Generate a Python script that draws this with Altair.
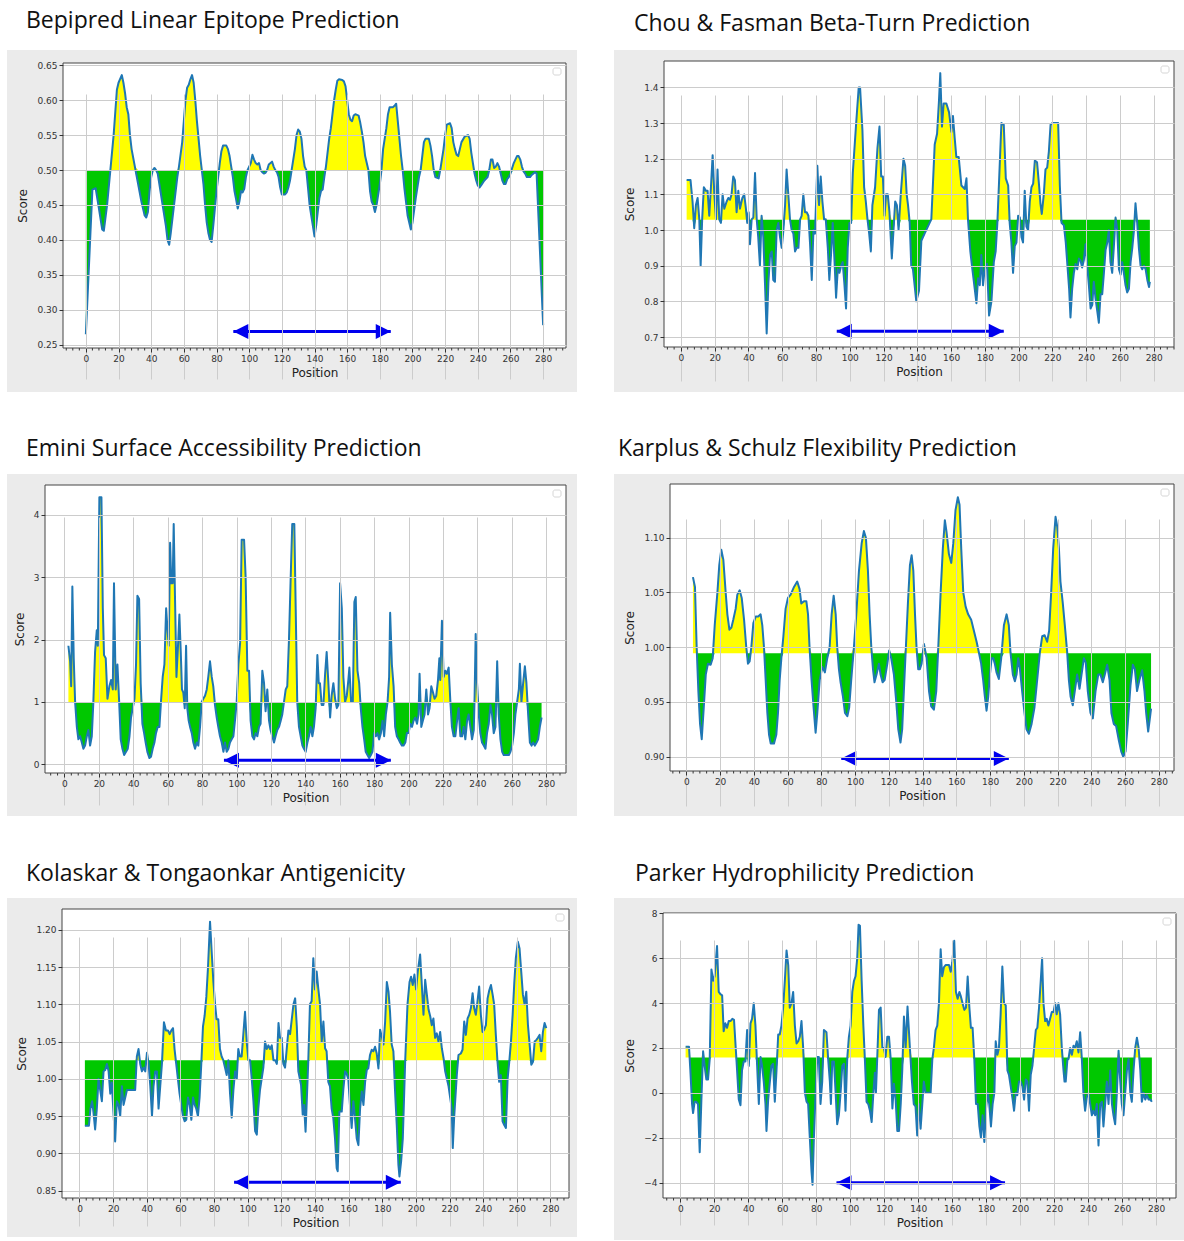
import altair as alt
import pandas as pd

# ---------------------------------------------------------------------------
# Per-residue scores, as (position, score) pairs
# ---------------------------------------------------------------------------
BEPIPRED = [
    (0, 0.265), (4, 0.472), (6, 0.474), (8, 0.445), (10, 0.415), (11, 0.413), (13, 0.45), (15, 0.50),
    (17, 0.55), (19, 0.615), (20, 0.625), (22, 0.636), (23, 0.625), (24, 0.61), (25, 0.59), (26, 0.58),
    (27, 0.55), (28, 0.53), (30, 0.505), (32, 0.48), (34, 0.455), (36, 0.435), (37, 0.432), (38, 0.44),
    (39, 0.47), (40, 0.49), (41, 0.50), (42, 0.503), (43, 0.50), (44, 0.495), (45, 0.48), (47, 0.45),
    (49, 0.42), (50, 0.40), (51, 0.393), (52, 0.41), (54, 0.45), (56, 0.49), (57, 0.505), (59, 0.54),
    (60, 0.57), (61, 0.60), (62, 0.618), (63, 0.622), (64, 0.63), (65, 0.636), (66, 0.625), (67, 0.60),
    (68, 0.57), (69, 0.545), (70, 0.52), (71, 0.50), (72, 0.48), (73, 0.45), (74, 0.425), (75, 0.41),
    (76, 0.40), (77, 0.397), (78, 0.42), (79, 0.445), (80, 0.47), (81, 0.49), (82, 0.51), (83, 0.527),
    (84, 0.535), (86, 0.535), (87, 0.53), (88, 0.52), (89, 0.505), (90, 0.49), (91, 0.47), (92, 0.458),
    (93, 0.445), (94, 0.455), (95, 0.47), (96, 0.468), (97, 0.473), (98, 0.49), (99, 0.50), (101, 0.51),
    (102, 0.522), (103, 0.515), (104, 0.51), (105, 0.508), (106, 0.51), (107, 0.50), (108, 0.497),
    (109, 0.495), (110, 0.496), (111, 0.50), (112, 0.508), (114, 0.512), (115, 0.505), (116, 0.50),
    (117, 0.497), (118, 0.49), (119, 0.475), (120, 0.465), (122, 0.465), (123, 0.468), (124, 0.475),
    (125, 0.485), (126, 0.50), (128, 0.53), (129, 0.55), (130, 0.558), (131, 0.555), (132, 0.545),
    (133, 0.52), (134, 0.505), (135, 0.50), (136, 0.475), (137, 0.45), (139, 0.42), (140, 0.405),
    (141, 0.42), (142, 0.44), (143, 0.46), (144, 0.47), (145, 0.472), (146, 0.49), (147, 0.505),
    (149, 0.545), (150, 0.56), (152, 0.60), (153, 0.615), (154, 0.628), (155, 0.63), (157, 0.629),
    (158, 0.627), (159, 0.62), (160, 0.60), (161, 0.58), (162, 0.572), (163, 0.57), (164, 0.578),
    (165, 0.58), (167, 0.578), (168, 0.568), (169, 0.555), (170, 0.54), (171, 0.52), (172, 0.51),
    (173, 0.50), (174, 0.47), (175, 0.455), (176, 0.45), (177, 0.44), (178, 0.45), (179, 0.465),
    (180, 0.48), (181, 0.50), (182, 0.53), (183, 0.545), (184, 0.56), (185, 0.58), (186, 0.59),
    (188, 0.59), (189, 0.592), (190, 0.595), (191, 0.57), (192, 0.545), (193, 0.52), (194, 0.50),
    (195, 0.475), (196, 0.455), (197, 0.435), (199, 0.415), (200, 0.425), (202, 0.46), (204, 0.49),
    (205, 0.50), (206, 0.52), (207, 0.54), (208, 0.545), (210, 0.545), (211, 0.535), (212, 0.52),
    (213, 0.50), (214, 0.49), (216, 0.488), (217, 0.50), (218, 0.515), (219, 0.53), (220, 0.55),
    (221, 0.565), (223, 0.567), (224, 0.56), (225, 0.54), (226, 0.53), (227, 0.522), (228, 0.52),
    (229, 0.53), (230, 0.54), (232, 0.548), (234, 0.55), (235, 0.545), (236, 0.525), (237, 0.51),
    (238, 0.495), (239, 0.485), (240, 0.478), (241, 0.475), (242, 0.478), (244, 0.485), (246, 0.49),
    (247, 0.50), (248, 0.515), (249, 0.515), (250, 0.503), (251, 0.505), (252, 0.51), (253, 0.505),
    (254, 0.495), (255, 0.485), (256, 0.48), (257, 0.48), (258, 0.487), (259, 0.49), (260, 0.495),
    (262, 0.51), (264, 0.52), (265, 0.52), (266, 0.515), (267, 0.505), (268, 0.498), (269, 0.495),
    (270, 0.49), (272, 0.49), (273, 0.493), (275, 0.497), (276, 0.495), (280, 0.278),
]

CHOU_FASMAN = [
    (3.4, 1.14), (5.7, 1.14), (6.9, 1.08), (7.9, 1.005), (8.9, 1.07), (9.9, 1.09), (10.9, 1.03), (11.7, 0.90),
    (12.6, 1.03), (13.6, 1.12), (14.8, 1.11), (15.8, 1.11), (16.8, 1.04), (17.8, 1.12), (18.8, 1.21),
    (19.8, 1.10), (20.8, 1.03), (21.7, 1.17), (22.7, 1.03), (23.7, 1.02), (24.7, 1.10), (25.7, 1.06),
    (27.1, 1.08), (28.1, 1.09), (29.1, 1.085), (30.0, 1.10), (31.0, 1.15), (32.0, 1.14), (33.0, 1.05),
    (34.0, 1.11), (35.0, 1.06), (36.4, 1.09), (37.5, 1.10), (38.5, 1.06), (39.3, 1.02), (40.1, 1.05),
    (40.9, 0.96), (41.9, 1.03), (42.9, 1.035), (43.9, 1.16), (44.9, 1.03), (45.8, 0.98), (46.8, 0.90),
    (47.8, 1.04), (48.8, 0.98), (49.8, 0.85), (50.8, 0.71), (51.8, 0.85), (52.8, 0.93), (53.8, 0.94),
    (54.7, 0.86), (55.7, 0.855), (56.7, 1.0), (57.7, 1.02), (58.7, 0.98), (59.7, 0.95), (60.7, 1.0),
    (61.7, 1.07), (62.6, 1.17), (63.6, 1.10), (64.6, 1.03), (65.6, 1.0), (66.6, 0.99), (67.6, 0.94),
    (68.6, 0.95), (69.6, 0.95), (70.6, 1.03), (71.5, 1.04), (72.5, 1.10), (73.5, 1.05), (74.5, 1.05),
    (75.5, 1.04), (76.5, 0.96), (77.5, 0.86), (78.5, 1.0), (79.4, 0.99), (80.8, 1.18), (81.8, 1.07),
    (82.8, 1.15), (83.8, 1.08), (84.8, 1.03), (85.8, 1.03), (87.0, 0.95), (87.9, 0.86), (88.9, 0.93),
    (89.9, 1.02), (90.9, 0.92), (91.9, 0.81), (92.9, 0.89), (93.9, 0.88), (94.9, 0.90), (95.8, 0.91),
    (96.8, 0.85), (97.8, 0.78), (98.8, 0.95), (99.8, 1.02), (100.8, 1.02), (101.8, 1.16), (103.8, 1.30),
    (105.3, 1.40), (106.1, 1.40), (107.5, 1.28), (108.5, 1.12), (109.5, 1.08), (110.5, 1.03),
    (111.5, 0.99), (112.5, 0.94), (113.4, 1.07), (115.0, 1.12), (116.4, 1.23), (117.6, 1.29),
    (118.6, 1.15), (119.6, 1.15), (120.6, 1.04), (121.5, 1.10), (122.5, 1.10), (123.5, 1.05),
    (124.9, 0.92), (125.9, 1.0), (126.9, 1.08), (127.9, 1.07), (128.9, 1.0), (130.2, 1.10), (131.8, 1.20),
    (132.8, 1.18), (133.7, 1.10), (134.5, 1.07), (135.5, 1.02), (136.4, 0.90), (137.4, 0.89),
    (139.4, 0.80), (141.0, 0.83), (142.4, 0.97), (144.3, 0.99), (147.3, 1.02), (148.3, 1.03),
    (150.3, 1.24), (151.7, 1.27), (152.8, 1.36), (153.6, 1.44), (154.6, 1.29), (155.6, 1.355),
    (157.2, 1.355), (158.8, 1.33), (160.2, 1.275), (161.1, 1.32), (162.1, 1.26), (163.1, 1.205),
    (164.5, 1.205), (166.1, 1.125), (168.1, 1.115), (169.1, 1.145), (170.0, 1.03), (171.4, 0.94),
    (172.6, 0.89), (174.0, 0.835), (175.0, 0.795), (176.0, 0.865), (177.0, 0.845), (177.9, 0.93),
    (178.9, 0.845), (179.9, 0.89), (181.3, 0.905), (182.5, 0.76), (183.9, 0.80), (185.3, 0.91),
    (186.4, 0.94), (187.4, 1.02), (188.4, 1.135), (189.8, 1.30), (191.2, 1.295), (192.4, 1.145),
    (193.8, 1.125), (194.7, 1.02), (195.7, 0.965), (196.7, 0.88), (197.7, 0.955), (198.7, 0.965),
    (199.7, 1.04), (200.7, 1.035), (201.7, 0.98), (202.6, 0.965), (203.6, 1.11), (204.6, 1.01),
    (205.6, 1.0), (206.6, 1.08), (207.6, 1.12), (208.6, 1.13), (209.6, 1.195), (210.9, 1.19),
    (212.1, 1.125), (212.9, 1.075), (213.7, 1.045), (214.9, 1.10), (215.9, 1.17), (216.9, 1.175),
    (217.9, 1.22), (218.9, 1.295), (220.0, 1.30), (221.6, 1.30), (223.4, 1.30), (224.4, 1.125),
    (225.4, 1.02), (226.8, 1.013), (227.9, 0.965), (228.9, 0.90), (229.9, 0.835), (230.7, 0.755),
    (231.7, 0.835), (232.7, 0.88), (233.7, 0.905), (234.7, 0.89), (235.7, 0.92), (236.6, 0.915),
    (237.6, 0.895), (238.6, 0.915), (239.6, 0.96), (240.6, 0.90), (241.6, 0.845), (242.6, 0.78),
    (243.6, 0.79), (244.5, 0.855), (245.5, 0.81), (246.5, 0.775), (247.5, 0.74), (248.5, 0.82),
    (249.5, 0.82), (250.5, 0.88), (251.5, 0.945), (252.5, 0.965), (253.4, 1.0), (254.4, 0.91),
    (255.4, 0.88), (256.4, 0.955), (257.4, 1.035), (258.4, 1.0), (259.4, 0.89), (260.4, 0.875),
    (261.3, 0.91), (262.3, 0.88), (263.3, 0.845), (264.3, 0.825), (265.3, 0.835), (266.3, 0.91),
    (267.3, 0.95), (268.3, 1.0), (269.2, 1.075), (270.2, 1.02), (271.2, 0.95), (272.2, 0.90),
    (273.2, 0.89), (274.2, 0.90), (275.2, 0.89), (276.2, 0.86), (277.2, 0.84), (277.7, 0.855),
]

EMINI = [
    (2.3, 1.9), (3.3, 1.65), (3.9, 1.25), (4.6, 2.85), (5.4, 1.7), (6.2, 1.0), (7.2, 0.6), (8.1, 0.4),
    (9.1, 0.45), (10.1, 0.35), (11.0, 0.25), (12.0, 0.3), (13.0, 0.45), (13.9, 0.55), (14.9, 0.3),
    (15.9, 0.45), (16.8, 1.0), (17.8, 1.8), (18.8, 2.15), (19.4, 1.9), (20.3, 4.28), (21.5, 4.28),
    (22.3, 2.5), (23.0, 1.75), (24.0, 1.7), (25.0, 1.05), (26.1, 1.25), (27.1, 1.35), (28.1, 1.2),
    (28.8, 2.9), (29.8, 1.2), (30.8, 1.6), (31.8, 1.0), (32.7, 0.4), (33.7, 0.25), (34.7, 0.15),
    (35.8, 0.2), (36.8, 0.25), (37.8, 0.45), (38.7, 0.75), (39.7, 0.9), (40.7, 1.05), (41.6, 1.6),
    (42.4, 2.7), (43.4, 2.65), (44.3, 1.3), (45.3, 0.65), (46.3, 0.5), (47.2, 0.35), (48.2, 0.2),
    (49.4, 0.1), (50.3, 0.12), (51.3, 0.25), (52.3, 0.35), (53.2, 0.5), (54.2, 0.6), (55.2, 0.6),
    (56.1, 1.0), (57.1, 1.4), (58.1, 1.6), (59.1, 2.5), (59.8, 2.2), (60.6, 1.9), (61.4, 3.55),
    (62.1, 2.9), (62.9, 2.9), (63.5, 3.85), (64.3, 2.6), (65.1, 1.4), (66.0, 1.9), (66.8, 2.4),
    (67.6, 1.8), (68.3, 1.2), (69.1, 1.15), (69.9, 0.9), (70.7, 1.9), (71.4, 0.9), (72.2, 0.7),
    (73.0, 0.6), (74.0, 0.5), (74.9, 0.35), (75.9, 0.25), (76.9, 0.35), (77.8, 0.3), (78.8, 0.6),
    (79.8, 1.0), (80.7, 1.05), (81.7, 1.1), (82.7, 1.2), (83.6, 1.4), (84.6, 1.65), (85.6, 1.4),
    (86.5, 1.25), (87.5, 0.95), (88.5, 0.75), (89.4, 0.6), (90.4, 0.45), (91.4, 0.35), (92.4, 0.2),
    (93.3, 0.35), (94.3, 0.2), (95.3, 0.25), (96.2, 0.35), (97.2, 0.4), (98.2, 0.45), (99.1, 0.7),
    (100.1, 1.0), (101.1, 1.6), (102.1, 1.95), (103.0, 3.6), (104.4, 3.6), (105.3, 3.0), (106.3, 1.5),
    (107.3, 1.5), (108.2, 0.7), (109.2, 0.45), (110.2, 0.4), (111.1, 0.5), (112.1, 0.45), (113.1, 0.6),
    (114.0, 0.65), (115.0, 1.5), (116.0, 1.3), (116.9, 0.85), (117.9, 1.2), (118.9, 0.7), (119.8, 0.55),
    (120.8, 0.45), (121.8, 0.35), (122.7, 0.45), (123.7, 0.55), (124.7, 0.6), (125.7, 0.7), (126.6, 0.8),
    (127.6, 1.0), (128.6, 1.2), (129.5, 1.25), (130.5, 2.0), (131.5, 3.0), (132.4, 3.85), (133.6, 3.85),
    (134.4, 2.5), (135.3, 1.0), (136.3, 0.6), (137.3, 0.45), (138.3, 0.3), (139.2, 0.25), (140.2, 0.2),
    (141.2, 0.35), (142.1, 0.45), (143.1, 0.6), (144.1, 0.45), (145.0, 0.6), (146.0, 0.9), (147.0, 1.75),
    (147.8, 1.3), (148.5, 1.3), (149.5, 0.95), (150.5, 0.95), (151.5, 1.45), (152.4, 1.8), (153.4, 1.3),
    (154.4, 0.75), (155.3, 1.1), (156.3, 1.3), (157.3, 1.05), (158.3, 0.9), (159.2, 0.95), (160.2, 2.9),
    (161.2, 2.5), (162.1, 1.4), (163.1, 1.0), (164.1, 1.1), (165.0, 1.35), (165.6, 1.55), (166.6, 1.0),
    (167.6, 1.0), (168.5, 2.6), (169.3, 2.68), (170.3, 1.5), (171.3, 1.3), (172.2, 0.9), (173.2, 0.6),
    (174.2, 0.4), (175.1, 0.2), (176.1, 0.15), (177.1, 0.1), (178.1, 0.15), (179.0, 0.2), (180.0, 0.5),
    (181.0, 0.45), (181.9, 0.5), (182.9, 0.4), (183.9, 0.5), (184.9, 0.7), (185.8, 0.45), (186.8, 0.8),
    (187.8, 1.0), (188.7, 1.4), (189.3, 2.43), (190.3, 1.6), (191.3, 1.25), (192.2, 0.6), (193.2, 0.45),
    (194.2, 0.4), (195.1, 0.35), (196.1, 0.3), (197.1, 0.3), (198.1, 0.35), (199.0, 0.5), (200.0, 0.5),
    (201.0, 0.65), (202.0, 0.6), (202.9, 0.7), (203.9, 0.75), (204.9, 0.65), (205.8, 0.8), (206.4, 1.45),
    (207.4, 0.6), (208.3, 0.7), (209.3, 0.8), (210.3, 1.2), (211.3, 0.8), (212.2, 0.9), (213.2, 1.25),
    (214.2, 1.15), (215.1, 1.05), (216.1, 1.1), (217.1, 1.35), (217.9, 1.7), (218.4, 1.35), (219.4, 2.3),
    (220.4, 1.4), (221.4, 1.5), (222.3, 1.45), (223.3, 1.55), (224.3, 1.0), (225.2, 0.6), (226.2, 0.45),
    (227.2, 0.45), (228.2, 0.7), (229.1, 0.9), (230.1, 0.45), (231.1, 0.45), (232.0, 0.6), (233.0, 0.4),
    (234.0, 0.7), (234.9, 0.8), (235.9, 0.6), (236.9, 0.4), (237.9, 0.55), (238.4, 1.1), (239.0, 2.09),
    (239.8, 1.3), (240.8, 0.8), (241.7, 0.5), (242.7, 0.35), (243.7, 0.3), (244.7, 0.25), (245.6, 0.5),
    (246.6, 0.65), (247.6, 0.95), (248.5, 0.8), (249.5, 0.5), (250.5, 0.6), (251.5, 1.65), (252.4, 0.8),
    (253.4, 0.4), (254.4, 0.2), (255.3, 0.15), (256.3, 0.15), (257.3, 0.15), (258.3, 0.15), (259.2, 0.2),
    (260.2, 0.3), (261.2, 0.5), (262.1, 0.8), (263.1, 1.0), (264.1, 1.2), (264.7, 1.61), (265.6, 1.0),
    (266.6, 1.3), (267.6, 1.57), (268.5, 1.3), (269.5, 0.8), (270.5, 0.35), (271.5, 0.3), (272.4, 0.35),
    (273.4, 0.3), (274.4, 0.35), (275.3, 0.4), (276.3, 0.6), (277.3, 0.75),
]

KARPLUS = [
    (3.9, 1.064), (5.1, 1.055), (6.1, 1.0), (7.1, 0.96), (8.1, 0.93), (9.1, 0.916), (10.1, 0.94),
    (11.5, 0.975), (12.8, 0.985), (14.4, 0.984), (15.6, 0.99), (16.8, 1.02), (18.4, 1.05), (19.5, 1.075),
    (20.7, 1.089), (21.9, 1.08), (23.3, 1.05), (24.3, 1.03), (25.5, 1.016), (26.7, 1.018), (27.8, 1.025),
    (29.2, 1.035), (30.2, 1.048), (31.6, 1.052), (32.8, 1.045), (34.2, 1.025), (35.5, 1.0), (36.5, 0.985),
    (37.5, 0.987), (38.5, 1.0), (39.7, 1.022), (41.1, 1.028), (42.6, 1.028), (44.0, 1.03), (45.0, 1.02),
    (46.0, 1.0), (47.0, 0.97), (48.0, 0.94), (49.0, 0.92), (50.0, 0.912), (51.9, 0.912), (53.3, 0.92),
    (54.3, 0.94), (55.3, 0.97), (56.3, 0.99), (57.5, 1.01), (58.8, 1.035), (60.2, 1.045), (61.8, 1.048),
    (63.8, 1.055), (65.7, 1.06), (67.1, 1.053), (68.1, 1.04), (69.7, 1.042), (71.1, 1.042), (72.1, 1.03),
    (73.0, 1.0), (74.2, 0.97), (75.4, 0.945), (76.6, 0.922), (77.6, 0.94), (79.0, 0.97), (80.6, 0.982),
    (82.1, 0.977), (83.5, 0.99), (84.9, 1.0), (86.1, 1.03), (87.3, 1.047), (88.5, 1.03), (89.4, 1.0),
    (90.4, 0.98), (91.4, 0.968), (92.8, 0.955), (94.0, 0.94), (95.4, 0.937), (96.5, 0.945), (97.7, 0.97),
    (99.3, 1.0), (100.7, 1.03), (102.3, 1.07), (103.9, 1.095), (105.2, 1.106), (106.4, 1.1), (107.6, 1.07),
    (108.6, 1.03), (109.6, 1.0), (110.6, 0.98), (111.5, 0.968), (112.7, 0.975), (114.1, 0.985),
    (115.1, 0.975), (116.3, 0.968), (117.5, 0.97), (119.1, 0.985), (120.2, 0.997), (121.4, 0.99),
    (123.0, 0.975), (124.4, 0.95), (125.6, 0.925), (126.9, 0.913), (127.9, 0.925), (128.9, 0.96),
    (130.1, 1.0), (131.3, 1.04), (132.5, 1.075), (133.5, 1.084), (134.5, 1.07), (135.5, 1.03),
    (136.4, 1.0), (137.4, 0.98), (138.4, 0.98), (139.4, 0.985), (140.8, 1.003), (142.4, 0.99),
    (143.8, 0.96), (145.1, 0.946), (146.7, 0.943), (148.1, 0.96), (149.3, 1.0), (150.7, 1.05),
    (152.0, 1.09), (153.2, 1.116), (154.2, 1.105), (155.6, 1.085), (157.0, 1.077), (158.2, 1.095),
    (159.5, 1.125), (160.9, 1.137), (161.9, 1.13), (162.9, 1.09), (164.1, 1.05), (165.5, 1.037),
    (167.0, 1.03), (168.8, 1.025), (170.4, 1.015), (172.0, 1.005), (173.4, 0.995), (174.7, 0.985),
    (175.9, 0.97), (176.9, 0.955), (177.9, 0.942), (178.9, 0.955), (179.9, 0.975), (180.9, 0.99),
    (181.9, 0.99), (182.8, 0.985), (183.8, 0.977), (185.2, 0.971), (186.6, 0.99), (188.2, 1.02),
    (189.8, 1.03), (191.1, 1.02), (192.1, 0.995), (193.5, 0.975), (194.7, 0.969), (195.7, 0.975),
    (196.7, 0.99), (197.7, 0.98), (199.0, 0.96), (200.4, 0.94), (201.6, 0.925), (203.0, 0.921),
    (204.6, 0.93), (206.3, 0.945), (207.9, 0.97), (209.5, 0.995), (210.9, 1.01), (212.3, 1.011),
    (213.8, 1.005), (215.0, 1.015), (216.2, 1.05), (217.4, 1.09), (218.8, 1.119), (219.8, 1.11),
    (220.8, 1.09), (221.7, 1.06), (223.1, 1.04), (224.3, 1.02), (225.7, 0.995), (226.7, 0.97),
    (227.7, 0.955), (229.0, 0.947), (230.2, 0.96), (231.6, 0.975), (233.0, 0.962), (234.2, 0.975),
    (235.6, 0.99), (236.7, 0.986), (237.9, 0.96), (239.5, 0.94), (240.9, 0.935), (242.5, 0.96),
    (244.1, 0.975), (245.4, 0.975), (246.8, 0.968), (248.0, 0.975), (249.4, 0.984), (250.8, 0.97),
    (251.9, 0.94), (253.3, 0.93), (254.7, 0.928), (256.3, 0.915), (257.7, 0.905), (258.9, 0.9),
    (260.3, 0.905), (261.6, 0.93), (263.2, 0.965), (264.6, 0.984), (265.8, 0.98), (267.1, 0.96),
    (268.5, 0.97), (270.1, 0.979), (271.5, 0.96), (272.5, 0.94), (273.7, 0.923), (274.7, 0.935),
    (275.4, 0.944),
]

KOLASKAR = [
    (3.2, 0.937), (5.6, 0.937), (6.5, 0.96), (7.5, 0.97), (8.3, 0.955), (9.3, 0.932), (10.3, 0.96),
    (11.3, 1.0), (12.3, 0.985), (13.3, 0.97), (14.3, 1.01), (15.3, 1.012), (16.3, 1.02), (17.3, 1.01),
    (18.3, 0.98), (19.2, 0.995), (20.2, 0.955), (21.2, 0.916), (22.2, 0.97), (23.2, 0.965), (24.2, 0.95),
    (25.2, 0.99), (26.2, 0.965), (27.2, 0.975), (28.2, 0.985), (29.2, 0.985), (30.4, 0.985),
    (31.9, 0.985), (33.1, 0.985), (34.1, 1.03), (35.1, 1.04), (36.1, 1.02), (37.1, 1.01), (38.1, 1.015),
    (39.1, 1.01), (40.1, 1.035), (41.1, 1.02), (42.1, 0.99), (43.1, 0.95), (44.0, 0.99), (45.0, 1.01),
    (46.0, 1.01), (47.0, 0.96), (48.0, 0.99), (49.0, 1.02), (50.2, 1.076), (51.4, 1.065), (52.6, 1.065),
    (53.6, 1.06), (54.6, 1.065), (55.6, 1.068), (56.5, 1.04), (57.5, 1.02), (58.5, 1.0), (59.5, 0.98),
    (60.5, 0.965), (61.5, 0.95), (62.5, 0.943), (63.5, 0.945), (64.5, 0.975), (65.5, 0.965),
    (66.5, 0.945), (67.5, 0.975), (68.5, 0.965), (69.4, 0.96), (70.4, 0.95), (71.4, 0.975), (72.4, 1.02),
    (73.4, 1.07), (74.4, 1.085), (75.4, 1.11), (76.4, 1.15), (77.6, 1.211), (78.6, 1.17), (79.6, 1.13),
    (80.6, 1.10), (81.5, 1.08), (82.5, 1.08), (83.5, 1.04), (84.5, 1.03), (85.5, 1.025), (86.5, 1.015),
    (87.5, 1.005), (88.5, 1.025), (89.5, 0.98), (90.5, 0.948), (91.5, 0.985), (92.5, 1.01), (93.5, 1.0),
    (94.4, 1.04), (95.4, 1.03), (96.4, 1.03), (97.4, 1.06), (98.4, 1.09), (99.4, 1.05), (100.4, 1.025),
    (101.4, 1.025), (102.4, 1.0), (103.4, 0.97), (104.4, 0.93), (105.4, 0.925), (106.3, 0.96),
    (107.3, 0.985), (108.3, 1.0), (109.3, 1.015), (110.3, 1.05), (111.3, 1.04), (112.3, 1.045),
    (113.3, 1.04), (114.3, 1.045), (115.3, 1.025), (116.3, 1.025), (117.3, 1.02), (118.3, 1.075),
    (119.2, 1.055), (120.2, 1.055), (121.2, 1.02), (122.2, 1.015), (123.2, 1.04), (124.2, 1.065),
    (125.2, 1.06), (126.2, 1.08), (127.2, 1.10), (128.2, 1.108), (129.2, 1.07), (130.1, 1.01),
    (131.7, 0.992), (132.7, 0.952), (133.5, 0.965), (134.4, 0.929), (136.0, 1.023), (137.0, 1.10),
    (138.0, 1.104), (139.0, 1.162), (140.0, 1.12), (141.0, 1.144), (142.0, 1.12), (143.0, 1.10),
    (144.0, 1.05), (145.0, 1.077), (146.0, 1.041), (146.9, 1.037), (147.9, 0.996), (148.9, 0.99),
    (149.9, 0.96), (150.9, 0.947), (151.9, 0.92), (152.9, 0.88), (153.5, 0.876), (154.5, 0.956),
    (155.9, 0.956), (156.9, 0.987), (157.9, 1.01), (158.8, 1.007), (159.8, 1.0), (160.8, 0.965),
    (161.8, 0.934), (162.8, 0.97), (163.8, 0.947), (164.8, 0.92), (165.8, 0.911), (166.8, 0.96),
    (167.8, 0.983), (168.8, 0.965), (169.8, 0.996), (170.8, 1.012), (171.7, 1.014), (172.7, 1.032),
    (173.7, 1.039), (174.7, 1.037), (175.7, 1.043), (176.7, 1.034), (177.7, 1.014), (178.7, 1.066),
    (179.7, 1.057), (180.7, 1.046), (181.7, 1.077), (182.7, 1.13), (183.7, 1.117), (184.6, 1.09),
    (185.6, 1.046), (186.6, 1.037), (187.6, 0.983), (188.6, 0.938), (189.6, 0.884), (190.2, 0.869),
    (191.2, 0.889), (192.2, 0.92), (193.6, 1.023), (195.0, 1.10), (196.2, 1.13), (197.1, 1.137),
    (198.1, 1.126), (199.1, 1.14), (200.1, 1.12), (201.1, 1.144), (202.5, 1.167), (203.5, 1.126),
    (204.5, 1.086), (205.5, 1.133), (206.5, 1.113), (207.5, 1.093), (208.5, 1.084), (209.4, 1.072),
    (210.4, 1.081), (211.4, 1.055), (212.4, 1.061), (213.4, 1.05), (214.4, 1.063), (215.4, 1.041),
    (216.4, 1.028), (217.4, 1.01), (218.4, 1.0), (219.4, 0.99), (220.4, 0.974), (221.3, 0.96),
    (221.9, 0.907), (222.7, 0.947), (223.7, 0.983), (224.3, 1.005), (225.3, 1.032), (226.7, 1.034),
    (227.7, 1.039), (228.7, 1.077), (229.7, 1.059), (230.7, 1.081), (231.7, 1.086), (232.7, 1.095),
    (233.7, 1.115), (234.6, 1.095), (235.6, 1.086), (236.6, 1.104), (237.6, 1.124), (238.6, 1.086),
    (239.6, 1.063), (240.6, 1.066), (241.6, 1.072), (242.6, 1.108), (243.6, 1.119), (244.6, 1.126),
    (245.6, 1.113), (246.5, 1.10), (247.5, 1.059), (248.5, 1.023), (249.5, 0.996), (250.5, 1.005),
    (251.5, 0.943), (252.5, 0.938), (253.5, 0.934), (254.5, 1.0), (255.5, 1.023), (256.5, 1.05),
    (257.5, 1.086), (258.5, 1.13), (259.4, 1.162), (260.6, 1.184), (261.6, 1.175), (262.6, 1.144),
    (263.6, 1.113), (264.6, 1.10), (265.6, 1.117), (266.6, 1.072), (267.6, 1.046), (268.6, 1.019),
    (269.6, 1.023), (270.6, 1.05), (271.5, 1.052), (272.5, 1.055), (273.5, 1.059), (274.5, 1.037),
    (275.5, 1.063), (276.5, 1.075), (277.5, 1.068),
]

PARKER = [
    (3.1, 2.05), (5.1, 2.05), (5.9, 1.0), (6.9, -0.5), (7.5, -0.9), (8.4, -0.4), (9.4, -0.4), (10.4, -0.5),
    (11.4, -2.65), (12.4, -0.3), (13.4, 1.85), (14.3, 1.2), (15.3, 0.6), (16.3, 0.6), (17.3, 1.5),
    (18.3, 5.5), (19.3, 5.0), (20.2, 5.2), (21.6, 6.55), (22.6, 4.5), (23.6, 4.4), (24.6, 4.35),
    (25.5, 2.75), (26.5, 3.1), (27.5, 2.9), (28.5, 3.2), (29.5, 3.2), (30.6, 3.3), (31.6, 3.25),
    (32.6, 2.0), (33.4, 1.0), (34.4, -0.3), (35.4, -0.55), (36.3, 1.0), (37.3, 1.4), (38.3, 1.4),
    (39.3, 2.8), (40.3, 1.2), (41.3, 3.1), (42.2, 3.3), (43.2, 4.0), (44.2, 3.0), (45.2, 1.2),
    (46.2, -0.5), (47.2, 1.6), (48.1, 1.2), (49.1, 0.5), (50.1, -0.5), (50.7, -1.7), (51.7, -0.3),
    (52.7, 0.5), (53.6, 1.2), (54.6, 1.3), (55.6, -0.4), (56.6, 1.0), (57.6, 2.6), (58.5, 2.6),
    (59.5, 3.0), (60.5, 3.8), (61.5, 5.0), (62.5, 6.35), (63.5, 5.7), (64.4, 3.8), (65.4, 4.0),
    (66.4, 4.5), (67.4, 3.0), (68.4, 2.2), (69.4, 2.3), (70.3, 2.5), (71.3, 3.2), (72.3, 2.0),
    (73.3, 0.0), (74.3, -0.4), (75.2, -0.5), (76.2, -2.0), (77.2, -3.5), (77.8, -4.1), (78.6, -2.0),
    (79.6, 0.0), (80.6, 1.6), (81.5, 1.6), (82.5, -0.5), (83.5, 0.5), (84.5, 2.8), (86.0, 2.7),
    (87.0, 1.5), (88.0, 0.5), (88.6, -0.5), (89.4, 1.4), (90.4, 1.4), (91.4, 0.0), (92.3, -1.4),
    (93.3, -1.0), (94.3, 0.0), (95.3, 1.2), (96.3, 1.3), (97.2, -0.8), (98.2, 1.5), (99.2, 2.5),
    (100.2, 3.0), (101.2, 4.5), (102.2, 5.0), (103.1, 5.2), (104.1, 6.0), (104.9, 7.5), (105.7, 7.45),
    (106.7, 5.0), (107.7, 3.0), (108.6, 1.5), (109.6, -0.4), (110.6, -0.5), (111.6, -0.8), (112.6, -1.3),
    (113.6, 0.0), (114.5, 0.9), (115.1, 0.0), (115.9, 1.6), (116.9, 3.7), (117.9, 3.8), (118.9, 2.0),
    (119.8, 2.0), (120.8, 1.6), (121.8, 2.5), (122.8, 2.5), (123.8, 1.5), (124.8, -0.7), (125.7, 0.4),
    (126.7, -0.3), (127.7, -1.7), (128.7, -1.7), (129.7, -0.5), (130.6, 1.0), (131.6, 3.4), (132.6, 2.0),
    (133.7, 3.85), (135.1, 2.0), (136.3, 0.5), (137.4, -0.5), (138.4, -0.6), (139.4, -1.9), (140.4, -0.5),
    (141.4, -1.6), (142.4, -0.5), (143.3, 0.5), (144.3, 0.0), (145.3, 0.0), (146.3, 0.0), (147.3, 0.0),
    (148.3, 1.5), (149.2, 2.0), (150.2, 2.8), (151.2, 3.0), (152.2, 4.0), (153.2, 6.4), (154.1, 5.2),
    (155.1, 5.6), (156.1, 5.7), (157.1, 5.7), (158.1, 5.7), (159.1, 5.4), (160.0, 5.8), (161.2, 6.78),
    (162.2, 4.5), (163.2, 4.2), (164.2, 4.5), (165.1, 4.3), (166.1, 4.0), (167.1, 3.7), (168.1, 3.8),
    (169.1, 5.19), (170.1, 3.8), (171.0, 2.9), (172.0, 2.9), (173.0, 1.5), (174.0, -0.5), (175.0, -0.5),
    (176.0, -1.5), (176.9, -2.0), (177.9, -1.0), (178.9, -2.19), (179.9, -0.7), (180.9, 0.0),
    (181.8, -0.5), (182.8, -1.5), (183.8, -0.5), (184.8, 0.0), (185.6, 2.3), (186.6, 1.7), (187.5, 2.0),
    (188.5, 3.5), (189.5, 5.63), (190.5, 4.0), (191.5, 3.9), (192.5, 1.0), (193.4, 0.8), (194.4, 0.3),
    (195.4, -0.2), (196.4, -0.8), (197.4, 0.0), (198.3, -0.1), (199.3, 0.5), (200.3, 0.5), (201.3, 0.3),
    (202.3, -0.3), (203.3, 0.6), (204.2, 0.5), (205.2, -0.8), (206.2, 0.8), (207.2, 1.2), (208.2, 2.0),
    (209.2, 2.8), (210.1, 2.9), (211.1, 3.8), (212.1, 5.0), (212.9, 6.0), (213.7, 4.0), (214.7, 3.2),
    (215.6, 3.3), (216.6, 3.0), (217.6, 3.3), (218.6, 3.6), (219.6, 3.6), (220.6, 4.0), (221.5, 3.5),
    (222.5, 4.0), (223.5, 3.5), (224.5, 2.0), (225.5, 1.0), (226.1, 0.5), (226.8, 0.5), (227.8, 1.5),
    (228.4, 1.5), (229.4, 2.0), (230.4, 1.7), (231.4, 2.1), (232.3, 2.0), (233.3, 2.3), (234.3, 1.8),
    (235.3, 2.7), (236.3, 1.5), (237.2, 0.0), (238.2, -0.8), (239.2, -0.2), (240.2, 0.0), (241.2, -0.5),
    (242.2, -1.0), (243.1, -0.8), (244.1, -1.0), (245.1, -0.5), (246.1, -2.35), (247.1, -0.5),
    (248.1, -0.4), (249.0, -1.5), (250.0, -0.5), (251.0, 0.5), (252.0, -0.5), (253.0, 1.0), (254.0, -0.5),
    (254.9, -1.0), (255.9, -1.4), (256.9, 0.0), (257.9, 1.88), (258.9, 0.5), (259.8, -0.5), (260.8, -1.0),
    (261.8, 0.0), (262.8, 1.0), (263.8, 1.5), (264.8, 0.0), (265.7, -0.4), (266.7, 1.0), (267.7, 2.0),
    (268.7, 2.46), (269.7, 2.0), (270.7, 1.0), (271.6, -0.4), (272.6, 0.0), (273.6, -0.3), (274.6, -0.1),
    (275.6, -0.3), (276.6, -0.3), (277.5, -0.4),
]

# Axis tick values
X_TICKS = [0, 20, 40, 60, 80, 100, 120, 140, 160, 180, 200, 220, 240, 260, 280]
X_MINOR = [t for t in range(-16, 300, 4) if t % 20]
Y_TICKS_BEPIPRED = [0.25, 0.30, 0.35, 0.40, 0.45, 0.50, 0.55, 0.60, 0.65]
Y_TICKS_CHOU = [0.7, 0.8, 0.9, 1.0, 1.1, 1.2, 1.3, 1.4]
Y_TICKS_EMINI = [0, 1, 2, 3, 4]
Y_TICKS_KARPLUS = [0.90, 0.95, 1.00, 1.05, 1.10]
Y_TICKS_KOLASKAR = [0.85, 0.90, 0.95, 1.00, 1.05, 1.10, 1.15, 1.20]
Y_TICKS_PARKER = [-4, -2, 0, 2, 4, 6, 8]

# Threshold of each method and the highlighted region (start, end, height)
THRESHOLDS = [0.50, 1.029, 1.0, 0.9945, 1.025, 1.58]
REGIONS = [
    (90.3, 186.7, 0.269),
    (92.3, 191.2, 0.716),
    (92.7, 189.7, 0.064),
    (91.8, 191.1, 0.8985),
    (91.9, 191.0, 0.861),
    (91.9, 191.1, -4.01),
]

TITLES = [
    "Bepipred Linear Epitope Prediction",
    "Chou & Fasman Beta-Turn Prediction",
    "Emini Surface Accessibility Prediction",
    "Karplus & Schulz Flexibility Prediction",
    "Kolaskar & Tongaonkar Antigenicity",
    "Parker Hydrophilicity Prediction",
]

# ---------------------------------------------------------------------------
# Panel geometry.  Each view is the whole grey frame; the plot rectangle sits
# inside it at (L, T) with size W x H, the frame extending R / B beyond it.
# ---------------------------------------------------------------------------
PANELS = [
    dict(series=BEPIPRED, size=(503, 285), pad=(56, 11, 13, 44), xdom=[-14, 294],
         ydom=[0.2452, 0.6533], yticks=Y_TICKS_BEPIPRED, yfmt=".2f", tdx=19, tdy=29),
    dict(series=CHOU_FASMAN, size=(510, 286), pad=(50, 10, 11, 45), xdom=[-10, 292],
         ydom=[0.672, 1.474], yticks=Y_TICKS_CHOU, yfmt=".1f", tdx=20, tdy=26),
    dict(series=EMINI, size=(521, 288), pad=(38, 11, 11, 43), xdom=[-11.3, 291.5],
         ydom=[-0.139, 4.476], yticks=Y_TICKS_EMINI, yfmt="d", tdx=19, tdy=25),
    dict(series=KARPLUS, size=(504, 287), pad=(56, 10, 10, 45), xdom=[-9.7, 289],
         ydom=[0.887, 1.149], yticks=Y_TICKS_KARPLUS, yfmt=".2f", tdx=4, tdy=25),
    dict(series=KOLASKAR, size=(507, 289), pad=(55, 8, 11, 39), xdom=[-10.4, 291],
         ydom=[0.840, 1.228], yticks=Y_TICKS_KOLASKAR, yfmt=".2f", tdx=19, tdy=24),
    dict(series=PARKER, size=(513, 285), pad=(49, 8, 15, 42), xdom=[-10.2, 291.7],
         ydom=[-4.69, 8.02], yticks=Y_TICKS_PARKER, yfmt="d", tdx=21, tdy=24),
]

TITLE_BAND = 45          # space above the grey frame for the panel heading
FRAME_GREY = "#ebebeb"
LINE_BLUE = "#1f77b4"
ABOVE = "#ffff00"
BELOW = "#00c800"
ARROW = "#0000ee"

AXIS_STYLE = dict(
    grid=True, gridColor="#cccccc", gridWidth=1, domain=False,
    ticks=True, tickColor="#333333", tickSize=4, tickWidth=1,
    labelFont="DejaVu Sans", labelFontSize=9, labelColor="#333333", labelPadding=2,
    titleFont="DejaVu Sans", titleFontSize=12, titleFontWeight="normal", titleColor="#222222",
    zindex=1,
)


def build_panel(idx):
    p = PANELS[idx]
    W, H = p["size"]
    L, R, T, B = p["pad"]
    VW, VH = L + W + R, T + H + B
    thr = THRESHOLDS[idx]
    start, end, ay = REGIONS[idx]

    df = pd.DataFrame(p["series"], columns=["Position", "Score"])
    one = pd.DataFrame({"k": [0]})
    lo, hi = p["xdom"]
    minor = pd.DataFrame({"t": [t for t in X_MINOR if lo <= t <= hi]})
    region = pd.DataFrame({"a": [start], "b": [end], "y": [ay]})

    # scales map into the plot rectangle inside the frame
    xs = alt.Scale(domain=p["xdom"], range=[L, L + W], nice=False, zero=False)
    ys = alt.Scale(domain=p["ydom"], range=[T + H, T], nice=False, zero=False)
    xax = alt.Axis(values=X_TICKS, format="d", title="Position", titlePadding=4,
                   offset=-B, **AXIS_STYLE)
    yax = alt.Axis(values=p["yticks"], format=p["yfmt"], title="Score", titlePadding=7,
                   offset=-L, **AXIS_STYLE)

    def X(f):
        return alt.X(f, type="quantitative", scale=xs, axis=xax)

    def Y(f):
        return alt.Y(f, type="quantitative", scale=ys, axis=yax)

    backdrop = alt.Chart(one).mark_rect(color="white").encode(
        x=alt.value(0), x2=alt.value(VW), y=alt.value(-TITLE_BAND), y2=alt.value(VH))
    frame_bg = alt.Chart(one).mark_rect(color=FRAME_GREY).encode(
        x=alt.value(0), x2=alt.value(VW), y=alt.value(0), y2=alt.value(VH))
    plot_bg = alt.Chart(one).mark_rect(color="white").encode(
        x=alt.value(L), x2=alt.value(L + W), y=alt.value(T), y2=alt.value(T + H))

    base = alt.Chart(df).transform_calculate(
        hi=f"max(datum.Score, {thr})", lo=f"min(datum.Score, {thr})", thr=f"{thr}")
    above = base.mark_area(color=ABOVE).encode(x=X("Position"), y=Y("hi"), y2="thr:Q")
    below = base.mark_area(color=BELOW).encode(x=X("Position"), y=Y("lo"), y2="thr:Q")
    line = alt.Chart(df).mark_line(color=LINE_BLUE, strokeWidth=2, strokeJoin="round").encode(
        x=X("Position"), y=Y("Score"))

    shaft = alt.Chart(region).mark_rule(color=ARROW, strokeWidth=3).encode(
        x=X("a"), x2="b:Q", y=Y("y"))
    head_l = alt.Chart(region).mark_point(
        shape="M-1,0L1,-1L1,1Z", size=225, filled=True, color=ARROW, opacity=1, xOffset=7.5).encode(
        x=X("a"), y=Y("y"))
    head_r = alt.Chart(region).mark_point(
        shape="M1,0L-1,-1L-1,1Z", size=225, filled=True, color=ARROW, opacity=1, xOffset=-7.5).encode(
        x=X("b"), y=Y("y"))

    minor_ticks = alt.Chart(minor).mark_rule(color="#333333", strokeWidth=1).encode(
        x=X("t"), y=alt.value(T + H), y2=alt.value(T + H + 2.5))
    legend_box = alt.Chart(one).mark_rect(
        fill="white", stroke="#d6d6d6", strokeWidth=1, cornerRadius=2).encode(
        x=alt.value(L + W - 13), x2=alt.value(L + W - 5), y=alt.value(T + 5), y2=alt.value(T + 12))
    border = alt.Chart(one).mark_rect(filled=False, color="#444444", strokeWidth=1).encode(
        x=alt.value(L), x2=alt.value(L + W), y=alt.value(T), y2=alt.value(T + H))
    heading = alt.Chart(one).mark_text(
        text=TITLES[idx], align="left", baseline="middle", font="Open Sans", fontSize=23,
        color="#111111").encode(x=alt.value(p["tdx"]), y=alt.value(-p["tdy"]))

    return alt.layer(
        backdrop, frame_bg, plot_bg, above, below, line, shaft, head_l, head_r,
        minor_ticks, legend_box, border, heading,
    ).properties(width=VW, height=VH)


chart = alt.concat(
    *[build_panel(i) for i in range(6)], columns=2, spacing=37
).properties(
    padding={"left": 7, "top": 5, "right": 0, "bottom": 0}, background="white"
).configure_view(stroke=None)

chart.save("out.html", embed_options={"renderer": "svg", "actions": False})
